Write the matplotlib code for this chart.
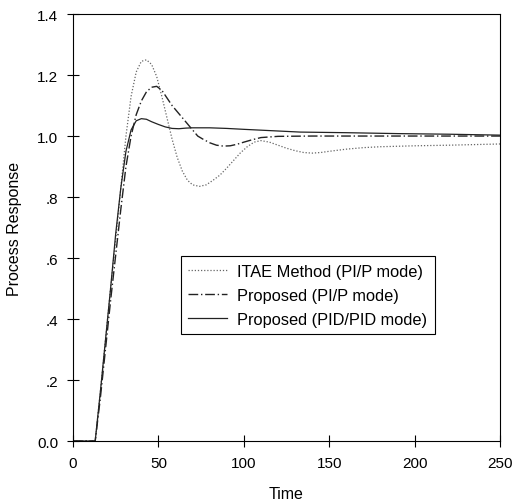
import matplotlib.pyplot as plt

plt.rcParams['font.family'] = ['Liberation Sans', 'DejaVu Sans']

# ITAE Method (PI/P mode)
t_itae = [0, 13, 16, 19, 22, 25, 28, 31, 34, 37, 40, 43, 46, 49, 52, 55, 58, 61, 64,
          67, 70, 74, 78, 82, 86, 90, 94, 98, 102, 106, 110, 115, 120, 125, 130, 135,
          140, 145, 150, 160, 170, 180, 200, 220, 250]
y_itae = [0, 0, 0.16, 0.33, 0.50, 0.66, 0.83, 1.00, 1.13, 1.21, 1.245, 1.25, 1.235,
          1.195, 1.13, 1.06, 0.99, 0.93, 0.885, 0.855, 0.84, 0.835, 0.84, 0.855, 0.872,
          0.895, 0.92, 0.945, 0.965, 0.98, 0.985, 0.98, 0.97, 0.96, 0.952, 0.946,
          0.944, 0.946, 0.95, 0.957, 0.962, 0.965, 0.968, 0.97, 0.974]

# Proposed (PI/P mode)
t_pip = [0, 13, 16, 19, 22, 25, 28, 31, 34, 37, 40, 43, 46, 49, 52, 55, 58, 61, 64,
         67, 70, 73, 76, 80, 84, 88, 92, 96, 100, 105, 110, 120, 140, 170, 200, 250]
y_pip = [0, 0, 0.14, 0.30, 0.46, 0.61, 0.76, 0.90, 1.00, 1.07, 1.115, 1.145, 1.16,
         1.163, 1.15, 1.125, 1.10, 1.08, 1.06, 1.04, 1.02, 1.0, 0.99, 0.978, 0.97,
         0.967, 0.968, 0.973, 0.98, 0.988, 0.995, 0.999, 1.0, 1.0, 1.0, 1.0]

# Proposed (PID/PID mode)
t_pid = [0, 13, 16, 19, 22, 25, 28, 31, 34, 37, 40, 43, 46, 50, 54, 58, 62, 66, 70,
         75, 80, 90, 100, 133, 160, 190, 220, 250]
y_pid = [0, 0, 0.16, 0.33, 0.50, 0.68, 0.83, 0.95, 1.02, 1.05, 1.057, 1.055, 1.047,
         1.038, 1.03, 1.025, 1.024, 1.026, 1.027, 1.027, 1.027, 1.025, 1.022, 1.013,
         1.011, 1.008, 1.006, 1.003]

xticks = [0, 50, 100, 150, 200, 250]
yticks = [0.0, 0.2, 0.4, 0.6, 0.8, 1.0, 1.2, 1.4]
ytick_labels = ['0.0', '.2', '.4', '.6', '.8', '1.0', '1.2', '1.4']

fig = plt.figure(figsize=(5.14, 5.02), dpi=100)
ax = fig.add_axes([0.142, 0.1195, 0.831, 0.8505])

ax.plot(t_itae, y_itae, color='#666666', linestyle=(0, (1, 1.5)), linewidth=0.9,
        label='ITAE Method (PI/P mode)')
ax.plot(t_pip, y_pip, color='#222222', linestyle=(0, (7, 2, 1, 2)), linewidth=1.0,
        label='Proposed (PI/P mode)')
ax.plot(t_pid, y_pid, color='#222222', linestyle='-', linewidth=0.9,
        label='Proposed (PID/PID mode)')

ax.set_xlim(0, 250)
ax.set_ylim(0, 1.4)
ax.set_xticks(xticks)
ax.set_yticks(yticks)
ax.set_yticklabels(ytick_labels)
ax.tick_params(direction='inout', length=9, width=0.8, labelsize=11, pad=6)
for s in ax.spines.values():
    s.set_linewidth(0.8)

ax.set_xlabel('Time', fontsize=11.5, labelpad=12)
ax.set_ylabel('Process Response', fontsize=11.5, labelpad=11)

leg = ax.legend(loc='lower left', bbox_to_anchor=(0.252, 0.25), borderaxespad=0,
                fontsize=11.8, fancybox=False, edgecolor='black', framealpha=1,
                handlelength=2.4, handletextpad=0.6, borderpad=0.45, labelspacing=0.55)
leg.get_frame().set_linewidth(0.8)

plt.savefig('out.png', dpi=100)
